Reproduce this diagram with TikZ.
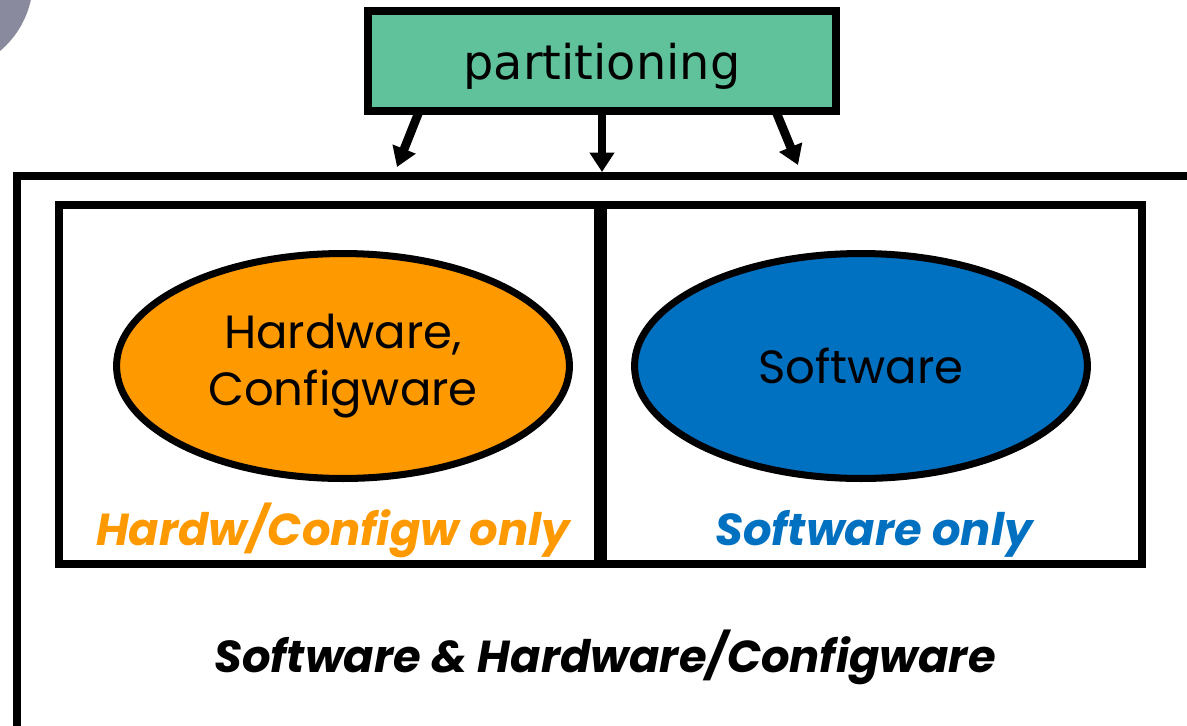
\documentclass[tikz,border=0pt]{standalone}
\usepackage{fontspec}
\usetikzlibrary{shapes.geometric, arrows.meta, positioning}

\newfontfamily\partfont{DejaVu Sans}
\newfontfamily\handfont{Poppins}

\definecolor{partgreen}{HTML}{5FC29B}
\definecolor{hworange}{HTML}{FF9900}
\definecolor{swblue}{HTML}{0070C0}

\tikzset{
	frame/.style={draw, line width=4.5pt},
	box/.style={draw, line width=4.5pt, inner sep=0pt},
	blob/.style={ellipse, draw, line width=4pt, inner sep=0pt,
		minimum width=9.06cm, minimum height=4.5cm, align=center,
		font=\handfont\fontsize{26.5}{32}\selectfont},
	tag/.style={anchor=base, inner sep=0pt,
		font=\handfont\bfseries\itshape\fontsize{25.5}{30}\selectfont},
	push/.style={line width=5pt, -{Triangle[length=11pt,width=13.5pt]}}
}

\begin{document}
\begin{tikzpicture}[x=0.02cm, y=-0.02cm]

		\useasboundingbox (0,0) rectangle (1187,725);
		\clip (0,0) rectangle (1187,725);

		% corner of the photo behind
		\fill[fill={rgb,255:red,138;green,138;blue,158}] (-60,-20) circle (93);

		% outer frame, open to the right and bottom
		\draw[frame] (17,760) |- (1220,176);

		\node[box, minimum width=10.78cm, minimum height=7.18cm] (hwbox) at (328.5,384.5) {};
		\node[box, minimum width=10.78cm, minimum height=7.18cm] (swbox) at (872.5,384.5) {};

		\node[blob, fill=hworange] (hw) at (343,366) {Hardware,\\Configware};
		\node[blob, fill=swblue, text depth=0pt] (sw) at (861,366) {Software};

		\node[tag, text=hworange] (hwtag) at (333,545) {Hardw/Configw only};
		\node[tag, text=swblue] (swtag) at (874,545) {Software only};
		\node[tag] (alltag) at (605,672) {Software \& Hardware/Configware};

		\node[box, fill=partgreen, minimum width=9.36cm, minimum height=2cm, text depth=0pt,
			font=\partfont\fontsize{27.2}{30}\selectfont] (part) at (602,61) {partitioning};

		\coordinate (inL) at (397,167);
		\coordinate (inM) at (602,172);
		\coordinate (inR) at (798,165);

		\draw[push] ([xshift=1.12cm, yshift=0.12cm]part.south west) -- (inL);
		\draw[push] ([yshift=0.12cm]part.south) -- (inM);
		\draw[push] ([xshift=-1.3cm, yshift=0.12cm]part.south east) -- (inR);
		\end{tikzpicture}
\end{document}
